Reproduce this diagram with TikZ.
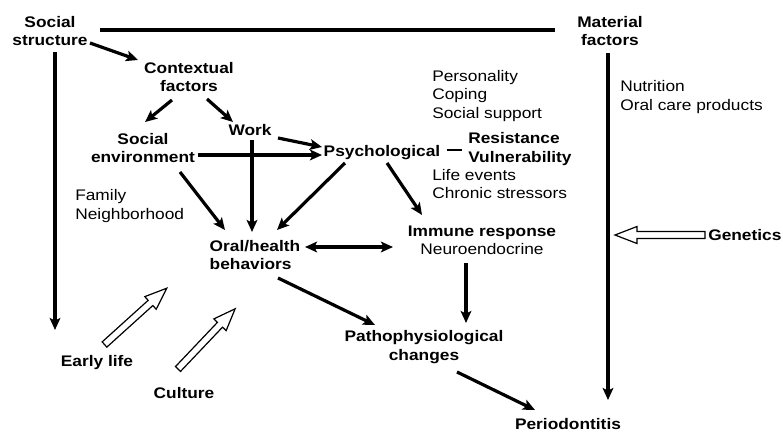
\documentclass[tikz,border=0pt]{standalone}
\usepackage{fontspec}
\setmainfont{Liberation Sans}[FakeStretch=1.13]
\usetikzlibrary{arrows.meta,calc}

% open block arrow of length #1, pointing along +x from its base
\tikzset{
  pics/hollowarrow/.style={code={
    \draw[line width=0.9pt, fill=white, line join=miter]
      (0,-3.5) -- ({#1-22},-3.5) -- ({#1-22},-8.5) -- (#1,0)
      -- ({#1-22},8.5) -- ({#1-22},3.5) -- (0,3.5) -- cycle;}}
}

\begin{document}
\begin{tikzpicture}[x=0.75pt,y=-0.75pt,
  lbl/.style={inner sep=0pt, font=\fontsize{11.5}{13.8}\selectfont\bfseries, align=center},
  note/.style={inner sep=0pt, font=\fontsize{11.5}{13.8}\selectfont, align=left, anchor=west},
  link/.style={line width=2.4pt},
  tip/.tip={Stealth[length=9pt,width=8pt,inset=2pt]},
  arr/.style={link, -tip},
  biarr/.style={link, tip-tip}]

\fill[white] (0,0) rectangle (783,432);
\useasboundingbox (0,0) rectangle (783,432);

% labels
\node[lbl] (ss)    at (50,31)   {Social\\structure};
\node[lbl] (mat)   at (610,31)  {Material\\factors};
\node[lbl] (ctx)   at (189,77)  {Contextual\\factors};
\node[lbl] (senv)  at (143,148) {Social\\environment};
\node[lbl] (work)  at (250,130) {Work};
\node[lbl] (psy)   at (382,153) {Psychological};
\node[lbl, align=left, anchor=west] (resv) at (468,149) {Resistance\\Vulnerability};
\node[lbl, align=left] (oral) at (255,255) {Oral/health\\behaviors};
\node[lbl] (imm)   at (482,240) {Immune response\\{\mdseries Neuroendocrine}};
\node[lbl, anchor=west] (gen) at (708,235) {Genetics};
\node[lbl] (patho) at (424,347) {Pathophysiological\\changes};
\node[lbl] (perio) at (568,424) {Periodontitis};
\node[lbl] (early) at (97,363)  {Early life};
\node[lbl] (cult)  at (184,393) {Culture};

% plain-text notes
\node[note] (pers) at (432,96)  {Personality\\Coping\\Social support};
\node[note] (life) at (432,184) {Life events\\Chronic stressors};
\node[note] (nutr) at (620,97)  {Nutrition\\Oral care products};
\node[note] (fam)  at (75,206)  {Family\\Neighborhood};

% free ends of the two long vertical arrows
\coordinate (ssend)  at (55,330);
\coordinate (matend) at (608,400);

% lines and arrows
\draw[link] ($(ss)+(50,-1)$) -- ($(mat)+(-55,-1)$);
\draw[arr] ($(ss)+(5,21)$) -- (ssend);
\draw[arr] ($(mat)+(-2,22)$) -- (matend);
\draw[arr] ($(ss)+(40,12)$) -- ($(ctx)+(-51,-17)$);
\draw[arr] ($(ctx)+(-17,23)$) -- ($(senv)+(2,-26)$);
\draw[arr] ($(ctx)+(18,22)$) -- ($(work)+(-17,-8)$);
\draw[arr] ($(work)+(28,8)$) -- ($(psy)+(-60,-6)$);
\draw[arr] ($(senv)+(55,7)$) -- ($(psy)+(-60,2)$);
\draw[arr] ($(work)+(2,10)$) -- ($(oral)+(-3,-23)$);
\draw[arr] ($(senv)+(37,24)$) -- ($(oral)+(-30,-25)$);
\draw[arr] ($(psy)+(-37,10)$) -- ($(oral)+(22,-25)$);
\draw[arr] ($(psy)+(5,10)$) -- ($(imm)+(-60,-25)$);
\draw[biarr] ($(oral)+(50,-8)$) -- ($(imm)+(-89,7)$);
\draw[arr] ($(imm)+(-16,23)$) -- ($(patho)+(42,-24)$);
\draw[arr] ($(oral)+(23,23)$) -- ($(patho)+(-49,-22)$);
\draw[arr] ($(patho)+(33,25)$) -- ($(perio)+(-33,-14)$);
\draw[line width=1.6pt] ($(resv.west)+(-21,1)$) -- ($(resv.west)+(-6,1)$);

% open block arrows
\pic[rotate=180]  (genarrow)   at ($(gen.west)+(-3,0)$) {hollowarrow=90};
\pic[rotate=42.1] (earlyarrow) at (104.5,344.5) {hollowarrow=84};
\pic[rotate=46.5] (cultarrow)  at (178,369)     {hollowarrow=83};

\end{tikzpicture}
\end{document}
